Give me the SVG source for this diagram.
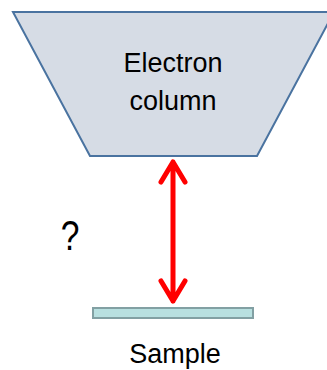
<svg xmlns="http://www.w3.org/2000/svg" width="327" height="370" viewBox="0 0 327 370">
<style>
.lbl{font-family:"Liberation Sans",Arial,sans-serif;font-size:27px;fill:#000;text-anchor:middle}
.arr{stroke:#ff0000;stroke-width:5;fill:none;stroke-linecap:round;stroke-linejoin:round}
</style>
<rect width="327" height="370" fill="#fff"/>
<g id="column">
<polygon points="13,12 334,12 257,156 90,156" fill="#d6dce5" stroke="#4a73a0" stroke-width="2"/>
<text class="lbl" x="173" y="72">Electron</text>
<text class="lbl" x="173" y="110">column</text>
</g>
<g id="sample">
<rect x="93" y="308" width="160" height="10" fill="#b8e0e0" stroke="#82a0a3" stroke-width="2"/>
<text class="lbl" x="175" y="363">Sample</text>
</g>
<g id="question">
<text class="lbl" x="0" y="250" style="font-size:42px" transform="translate(70,0) scale(0.8,1)">?</text>
</g>
<g id="connectors">
<path class="arr" d="M173,162 L173,301 M161,182 L173,162 L185,182 M161,281 L173,301 L185,281"/>
</g>
</svg>
